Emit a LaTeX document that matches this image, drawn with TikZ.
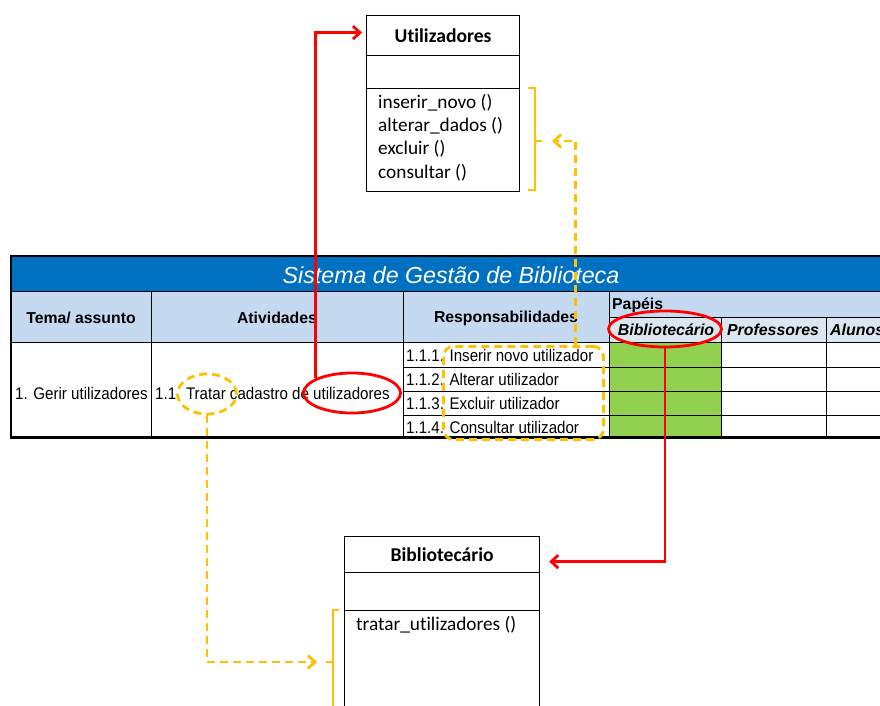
\documentclass[tikz,border=0pt]{standalone}
\usepackage{fontspec}
\setmainfont[Ligatures=NoCommon]{Carlito}
\newfontfamily\tabfont[FakeStretch=0.9]{Liberation Sans}
\newfontfamily\hdfont{Liberation Sans}
\usetikzlibrary{arrows.meta,shapes.geometric,calc}
\definecolor{xlblue}{HTML}{0070C0}
\definecolor{hdblue}{HTML}{C5D9F1}
\definecolor{subblue}{HTML}{DCE6F1}
\definecolor{xlgreen}{HTML}{92D050}
\definecolor{ylw}{HTML}{FFC000}
\definecolor{rd}{HTML}{FF0000}
\tikzset{
  umlpart/.style={draw=black, line width=1.2pt, anchor=north west, inner sep=0pt, fill=white},
  umltitle/.style={umlpart, font=\fontsize{19.6}{22}\selectfont\bfseries},
  meth/.style={anchor=north west, inner sep=0pt, align=left, font=\fontsize{19.3}{23.3}\selectfont},
  grid/.style={draw=black, line width=1pt},
  tabtxt/.style={inner sep=0pt, font=\tabfont\fontsize{16.8}{19}\selectfont},
  hdtxt/.style={inner sep=0pt, font=\hdfont\fontsize{15.8}{18}\selectfont\bfseries},
  subtxt/.style={inner sep=0pt, font=\hdfont\fontsize{15.9}{18}\selectfont\bfseries\itshape},
  redring/.style={ellipse, draw=rd, line width=2.8pt, inner sep=0pt},
  ylwring/.style={ellipse, draw=ylw, line width=2.8pt, dash pattern=on 8pt off 5pt, inner sep=0pt},
  redconn/.style={draw=rd, line width=2.8pt, -{Straight Barb[length=7pt,width=13pt]}},
  ylwconn/.style={draw=ylw, line width=2.8pt, dash pattern=on 8pt off 5pt, -{Straight Barb[length=7pt,width=13pt]}},
  brack/.style={draw=ylw, line width=1.5pt}
}
\begin{document}
\begin{tikzpicture}[x=1pt,y=-1pt]
\useasboundingbox (0,0) rectangle (880,706);
\clip (0,0) rectangle (880,706);
\fill[white] (0,0) rectangle (880,706);

% ---------- Utilizadores class ----------
\node[umltitle, minimum width=153pt, minimum height=40pt] (utitle) at (366,15) {Utilizadores};
\node[umlpart, minimum width=153pt, minimum height=33pt] (uattr) at (366,55) {};
\node[umlpart, minimum width=153pt, minimum height=103pt] (umeth) at (366,88) {};
\node[meth] (umtext) at (378,94) {inserir\_novo ()\\alterar\_dados ()\\excluir ()\\consultar ()};

% bracket right of Utilizadores
\draw[brack] (528,88) -- (535,88) -- (535,190) -- (528,190);
\coordinate (ub) at (542,141);
\draw[brack] (535,141) -- (ub);

% ---------- Bibliotecario class ----------
\node[umltitle, minimum width=195pt, minimum height=36pt] (btitle) at (344,536) {Bibliotecário};
\node[umlpart, minimum width=195pt, minimum height=38pt] (battr) at (344,572) {};
\node[umlpart, minimum width=195pt, minimum height=120pt] (bmeth) at (344,610) {};
\node[meth] (bmtext) at (356,616) {tratar\_utilizadores ()};

% bracket left of Bibliotecario
\draw[brack] (339,610) -- (333,610) -- (333,720);
\coordinate (bb) at (326,662);
\draw[brack] (333,662) -- (bb);

% ---------- Table ----------
\fill[xlblue] (10,257) rectangle (880,291);
\fill[hdblue] (10,291) rectangle (880,342);
\fill[subblue] (609,317) rectangle (880,342);
\fill[xlgreen] (609,342) rectangle (721,438);
\draw[grid] (10,291) -- (880,291);
\draw[grid] (609,317) -- (880,317);
\draw[grid] (10,342) -- (880,342);
\foreach \yy in {367,391,415} \draw[grid] (403,\yy) -- (880,\yy);
\draw[grid] (151,291) -- (151,438);
\draw[grid] (403,291) -- (403,438);
\draw[grid] (609,291) -- (609,438);
\draw[grid] (721,317) -- (721,438);
\draw[grid] (826,317) -- (826,438);
\draw[black, line width=2.2pt] (882,256) -- (11,256) -- (11,437.5) -- (882,437.5);

\node[inner sep=0pt, text=white, font=\hdfont\fontsize{23.2}{26}\selectfont\itshape] (title) at (451,275) {Sistema de Gestão de Biblioteca};
\node[hdtxt] (h1) at (81,318) {Tema/ assunto};
\node[hdtxt] (h2) at (277,318) {Atividades};
\node[hdtxt] (h3) at (506,318) {Responsabilidades};
\node[hdtxt, anchor=west] (h4) at (612,305) {Papéis};
\node[subtxt] (r1h) at (666,330) {Bibliotecário};
\node[subtxt] (r2h) at (773,330) {Professores};
\node[subtxt, anchor=west] (r3h) at (830,330) {Alunos};

\node[tabtxt, anchor=west] (tema) at (15,393) {1. Gerir utilizadores};
\node[tabtxt, anchor=west] (ativ) at (155,393) {1.1. Tratar cadastro de utilizadores};
\node[tabtxt, anchor=west] (resp1) at (406,355) {1.1.1. Inserir novo utilizador};
\node[tabtxt, anchor=west] (resp2) at (406,379.5) {1.1.2. Alterar utilizador};
\node[tabtxt, anchor=west] (resp3) at (406,403.5) {1.1.3. Excluir utilizador};
\node[tabtxt, anchor=west] (resp4) at (406,427.5) {1.1.4. Consultar utilizador};

% ---------- Highlights ----------
\node[redring, minimum width=97pt, minimum height=40pt] (e1) at (352,393) {};
\node[ylwring, minimum width=59pt, minimum height=40pt] (e2) at (207,394) {};
\node[redring, minimum width=113pt, minimum height=36pt] (e3) at (665,329) {};
\node[draw=ylw, line width=2.8pt, dash pattern=on 8pt off 5pt, rounded corners=10pt, minimum width=160pt, minimum height=93pt, anchor=north west, inner sep=0pt] (rr) at (442,345) {};

% ---------- Connectors ----------
\draw[redconn, shorten >=4pt] (e1.158) |- ($(utitle.west)+(0,-3)$);
\draw[ylwconn, shorten >=10pt] ($(rr.north east)+(-29,0)$) |- (ub);
\draw[redconn, shorten >=9pt] (e3.south) |- ($(btitle.east)+(0,7)$);
\draw[ylwconn, shorten >=9pt] (e2.south) |- (bb);
\end{tikzpicture}
\end{document}
